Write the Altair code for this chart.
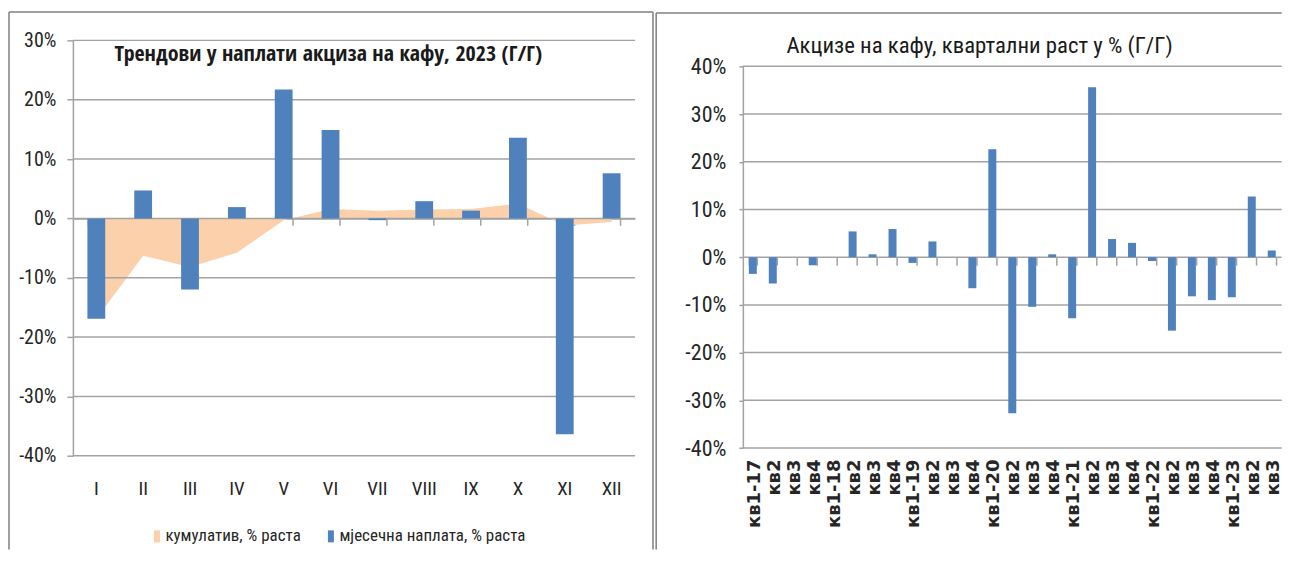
import json
import altair as alt
import pandas as pd

# ---------------- data ----------------
MONTHS = ["I", "II", "III", "IV", "V", "VI", "VII", "VIII", "IX", "X", "XI", "XII"]
MONTHLY = [-16.9, 4.7, -12.0, 1.9, 21.7, 14.9, -0.3, 2.9, 1.3, 13.6, -36.4, 7.6]       # % y/y
CUMULATIVE = [-16.9, -6.3, -8.2, -5.8, -0.3, 1.6, 1.3, 1.5, 1.6, 2.5, -1.2, -0.6]       # % y/y
SERIES = ["кумулатив, % раста", "мјесечна наплата, % раста"]
LEFT_TICKS = [-0.4, -0.3, -0.2, -0.1, 0.0, 0.1, 0.2, 0.3]

Q_LABELS = ["кв1-17", "кв2", "кв3", "кв4", "кв1-18", "кв2", "кв3", "кв4",
            "кв1-19", "кв2", "кв3", "кв4", "кв1-20", "кв2", "кв3", "кв4",
            "кв1-21", "кв2", "кв3", "кв4", "кв1-22", "кв2", "кв3", "кв4",
            "кв1-23", "кв2", "кв3", "кв4"]
Q_VALUES = [-3.5, -5.5, 0.0, -1.7, 0.0, 5.4, 0.6, 5.9,
            -1.2, 3.3, 0.0, -6.5, 22.6, -32.7, -10.4, 0.6,
            -12.8, 35.6, 3.8, 3.0, -0.8, -15.4, -8.2, -9.0,
            -8.4, 12.7, 1.4, -6.2]
RIGHT_TICKS = [-0.4, -0.3, -0.2, -0.1, 0.0, 0.1, 0.2, 0.3, 0.4]
NSHOW = 27   # the reference image is cropped right after the 27th quarter

LEFT_TITLE = "Трендови у наплати акциза на кафу, 2023 (Г/Г)"
RIGHT_TITLE = "Акцизе на кафу, квартални раст у % (Г/Г)"

# ---------------- style ----------------
BLUE = "#4f81bd"
CREAM = "#fbd0aa"
GRID = "#a3a3a3"
BORDER = "#808080"
TXT = "#262626"
COND = "Roboto Condensed"

W1, H1 = 563, 416
W2, H2 = 539.7, 408.3
Y2_RANGE = [408.3, 26]
X2_RANGE = [0, 539.7]
BOTTOM = 510

MINUS_FIX = "replace(datum.label, '\u2212', '-')"
one = pd.DataFrame({"b": [0]})


def rule(x, y, x2=None, y2=None):
    enc = {"x": alt.value(x), "y": alt.value(y)}
    if x2 is not None:
        enc["x2"] = alt.value(x2)
    if y2 is not None:
        enc["y2"] = alt.value(y2)
    return alt.Chart(one).mark_rule(color=BORDER, strokeWidth=1.5).encode(**enc)


# ---------------- left chart ----------------
dfm = pd.DataFrame({"month": MONTHS, "value": [v / 100 for v in MONTHLY], "series": SERIES[1]})
dfc = pd.DataFrame({"month": MONTHS, "value": [v / 100 for v in CUMULATIVE], "series": SERIES[0]})
dfg1 = pd.DataFrame({"tick": LEFT_TICKS})

xs1 = alt.Scale(domain=MONTHS, paddingInner=0.62, paddingOuter=0.31)
ys1 = alt.Scale(domain=[-0.4, 0.3], nice=False)
cs = alt.Scale(domain=SERIES, range=[CREAM, BLUE])
zero1 = H1 * 0.3 / 0.7

border1 = [rule(-64, -28.5, y2=BOTTOM), rule(-64, -28.5, x2=581), rule(581, -28.5, y2=BOTTOM)]

area = alt.Chart(dfc).mark_area(interpolate="linear").encode(
    x=alt.X("month:N", sort=MONTHS, scale=xs1, bandPosition=0.5,
            axis=alt.Axis(orient="bottom", offset=-(H1 - zero1), domain=True, domainColor=GRID,
                          domainWidth=1.5, ticks=True, tickBand="extent", tickSize=7,
                          tickColor=GRID, tickWidth=1.5, labels=False, grid=False, title=None)),
    y=alt.Y("value:Q", scale=ys1,
            axis=alt.Axis(orient="left", values=LEFT_TICKS, format=".0%", labelExpr=MINUS_FIX,
                          grid=False, domain=True, domainColor=GRID, domainWidth=1.5, ticks=True,
                          tickSize=6, tickColor=GRID, tickWidth=1.5, labelPadding=11,
                          labelFont=COND, labelFontSize=20, labelColor=TXT, title=None)),
    y2=alt.datum(0),
    color=alt.Color("series:N", scale=cs,
                    legend=alt.Legend(orient="none", legendX=73.8, legendY=488, direction="horizontal",
                                      title=None, symbolType="M-1,-2H1V2H-1Z", symbolSize=36,
                                      symbolOffset=1.85, symbolStrokeWidth=0, labelFont=COND,
                                      labelFontSize=17, labelColor=TXT, labelOffset=0,
                                      columnPadding=19.25, padding=0, labelLimit=0)),
)

grid1 = alt.Chart(dfg1).mark_rule(color=GRID, strokeWidth=1.5).encode(
    y=alt.Y("tick:Q", scale=ys1, axis=None))

bars1 = alt.Chart(dfm).mark_bar().encode(
    x=alt.X("month:N", sort=MONTHS, scale=xs1,
            axis=alt.Axis(orient="bottom", domain=False, ticks=False, tickSize=0, labels=True,
                          labelPadding=24, labelFont=COND, labelFontSize=19, labelColor=TXT,
                          labelAngle=0, grid=False, title=None)),
    y=alt.Y("value:Q", scale=ys1, axis=None),
    y2=alt.datum(0),
    color=alt.Color("series:N", scale=cs),
)

title1 = alt.Chart(pd.DataFrame({"t": [LEFT_TITLE]})).mark_text(
    align="left", baseline="alphabetic", font="Open Sans Condensed", fontSize=22,
    fontWeight="bold", color="#1a1a1a").encode(text="t:N", x=alt.value(41.75), y=alt.value(20.5))

left = alt.layer(*border1, area, grid1, bars1, title1).resolve_axis(
    x="independent", y="independent").properties(width=W1, height=H1)

# ---------------- right chart ----------------
NQ = len(Q_VALUES)
dfq = pd.DataFrame({"q": list(range(NQ)), "value": [v / 100 for v in Q_VALUES]})
dfg2 = pd.DataFrame({"tick": RIGHT_TICKS})
SHOWN = list(range(NSHOW))
xs2 = alt.Scale(domain=SHOWN, range=X2_RANGE, paddingInner=0.6, paddingOuter=0.3)
ys2 = alt.Scale(domain=[-0.4, 0.4], range=Y2_RANGE, nice=False)
label_expr = json.dumps(Q_LABELS, ensure_ascii=False) + "[datum.value]"
keep = f"datum.q < {NSHOW}"

border2 = [rule(-86.8, -27.5, y2=BOTTOM), rule(-86.8, -27.5, x2=W2)]

grid2 = alt.Chart(dfg2).mark_rule(color=GRID, strokeWidth=1.5).encode(
    y=alt.Y("tick:Q", scale=ys2,
            axis=alt.Axis(orient="left", values=RIGHT_TICKS, format=".0%", labelExpr=MINUS_FIX,
                          grid=False, domain=True, domainColor=GRID, domainWidth=1.5, ticks=True,
                          tickSize=4, tickColor=GRID, tickWidth=1.5, labelPadding=13,
                          labelFont=COND, labelFontSize=22, labelColor=TXT, title=None)))

bars2 = alt.Chart(dfq).transform_filter(keep).mark_bar(color=BLUE).encode(
    x=alt.X("q:O", scale=xs2,
            axis=alt.Axis(orient="bottom", offset=-(H2 - (Y2_RANGE[0] + Y2_RANGE[1]) / 2),
                          values=SHOWN, tickBand="extent", domain=False, ticks=True,
                          tickSize=8, tickColor=GRID, tickWidth=1.5, labels=False, grid=False,
                          title=None)),
    y=alt.Y("value:Q", scale=ys2, axis=None),
    y2=alt.datum(0),
)

labels2 = alt.Chart(dfq).transform_filter(keep).mark_bar(opacity=0).encode(
    x=alt.X("q:O", scale=xs2,
            axis=alt.Axis(orient="bottom", values=SHOWN, domain=False, ticks=False,
                          tickSize=0, labelAngle=270, labelExpr=label_expr, labelPadding=11,
                          labelOffset=2, labelFont="DejaVu Sans", labelFontWeight="bold",
                          labelFontSize=18, labelColor=TXT, labelOverlap=False, grid=False,
                          title=None)),
    y=alt.Y("value:Q", scale=ys2, axis=None),
    y2=alt.datum(0),
)

title2 = alt.Chart(pd.DataFrame({"t": [RIGHT_TITLE]})).mark_text(
    align="left", baseline="alphabetic", font=COND, fontSize=22.8, color="#1a1a1a").encode(
    text="t:N", x=alt.value(43.7), y=alt.value(13))

right = alt.layer(*border2, grid2, bars2, labels2, title2).resolve_axis(
    x="independent", y="independent").properties(width=W2, height=H2)

chart = alt.hconcat(left, right, spacing=1).resolve_scale(color="independent").resolve_legend(
    color="independent").properties(
    padding={"left": 0, "top": 2, "right": 0, "bottom": 0}, background="white"
).configure_view(stroke=None)

chart.save("out.html", embed_options={"renderer": "svg", "actions": False})
